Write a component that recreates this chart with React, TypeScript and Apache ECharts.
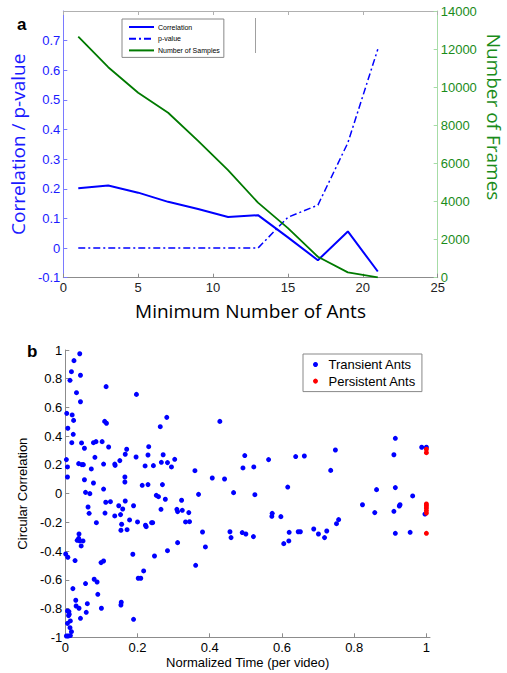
import React, { useEffect, useRef } from "react";
import * as echarts from "echarts";

// ---- Panel a data ----
const minAnts = [1, 3, 5, 7, 9, 11, 13, 15, 17, 19, 21];
const correlation = [0.202, 0.211, 0.187, 0.156, 0.132, 0.105, 0.111, 0.036, -0.041, 0.056, -0.079];
const pValue = [0, 0, 0, 0, 0, 0, 0, 0.104, 0.145, 0.355, 0.671];
const numSamples = [12650, 11050, 9710, 8660, 7180, 5650, 3940, 2600, 1100, 280, 20];

// ---- Panel b data ----
const transientAnts: number[][] = [
  [0.040, 0.974], [0.024, 0.926], [0.017, 0.849], [0.013, 0.789], [0.042, 0.824],
  [0.113, 0.745], [0.031, 0.703], [0.042, 0.640], [0.197, 0.691], [0.004, 0.559],
  [0.019, 0.548], [0.023, 0.510], [0.007, 0.455], [0.022, 0.413], [0.018, 0.355],
  [0.045, 0.353], [0.053, 0.316], [0.109, 0.503], [0.114, 0.490], [0.263, 0.466],
  [0.281, 0.531], [0.078, 0.355], [0.085, 0.362], [0.102, 0.362], [0.120, 0.325],
  [0.170, 0.309], [0.166, 0.274], [0.082, 0.253], [0.003, 0.237], [0.006, 0.186],
  [0.006, 0.116], [0.037, 0.209], [0.046, 0.202], [0.050, 0.202], [0.106, 0.206],
  [0.072, 0.172], [0.137, 0.206], [0.138, 0.197], [0.151, 0.230], [0.165, 0.116],
  [0.165, 0.081], [0.196, 0.255], [0.221, 0.193], [0.229, 0.269], [0.231, 0.327],
  [0.244, 0.195], [0.271, 0.271], [0.266, 0.218], [0.283, 0.216], [0.213, 0.058],
  [0.229, 0.063], [0.269, 0.063], [0.053, 0.097], [0.078, 0.074], [0.106, 0.032],
  [0.056, 0.009], [0.068, 0.0], [0.063, -0.093], [0.066, -0.137], [0.086, -0.202],
  [0.112, -0.060], [0.125, -0.056], [0.110, -0.135], [0.137, -0.155], [0.148, -0.084],
  [0.159, -0.107], [0.153, -0.146], [0.166, -0.051], [0.156, -0.213], [0.154, -0.255],
  [0.171, -0.251], [0.178, -0.183], [0.189, -0.084], [0.200, -0.197], [0.222, -0.220],
  [0.224, -0.230], [0.239, -0.202], [0.242, -0.202], [0.252, -0.012], [0.258, -0.021],
  [0.265, -0.109], [0.277, -0.039], [0.283, -0.397], [0.247, -0.434], [0.187, -0.422],
  [0.217, -0.538], [0.202, -0.589], [0.209, -0.589], [0.189, -0.875], [0.155, -0.756],
  [0.154, -0.775], [0.100, -0.798], [0.090, -0.701], [0.088, -0.615], [0.080, -0.596],
  [0.056, -0.626], [0.044, -0.364], [0.040, -0.329], [0.049, -0.329], [0.033, -0.325],
  [0.037, -0.311], [0.038, -0.281], [0.001, -0.420], [0.007, -0.443], [0.027, -0.466],
  [0.099, -0.480], [0.106, -0.469], [0.021, -0.661], [0.029, -0.742], [0.030, -0.782],
  [0.038, -0.798], [0.061, -0.766], [0.058, -0.826], [0.042, -0.868], [0.006, -0.817],
  [0.010, -0.821], [0.011, -0.840], [0.009, -0.849], [0.006, -0.903], [0.014, -0.886],
  [0.013, -0.933], [0.017, -0.961], [0.003, -0.991], [0.008, -0.991], [0.014, -0.988],
  [0.294, 0.186], [0.303, 0.239], [0.359, 0.160], [0.369, -0.005], [0.322, -0.046],
  [0.309, -0.109], [0.324, -0.116], [0.311, -0.125], [0.342, -0.132], [0.333, -0.197],
  [0.344, -0.195], [0.380, -0.267], [0.311, -0.341], [0.388, -0.371], [0.361, -0.499],
  [0.407, 0.109], [0.441, 0.102], [0.428, 0.503], [0.466, 0.007], [0.456, -0.265],
  [0.459, -0.306], [0.490, -0.271], [0.500, -0.281], [0.497, 0.265], [0.492, 0.179],
  [0.522, 0.186], [0.525, -0.007], [0.521, -0.299], [0.563, 0.237], [0.572, -0.158],
  [0.573, -0.137], [0.597, -0.160], [0.605, -0.348], [0.619, -0.329], [0.616, 0.046],
  [0.620, -0.269], [0.638, 0.258], [0.645, -0.265], [0.651, -0.265], [0.662, 0.262],
  [0.688, -0.246], [0.701, -0.281], [0.718, -0.306], [0.724, -0.260], [0.735, 0.162],
  [0.748, 0.304], [0.751, -0.209], [0.757, -0.181], [0.823, -0.077], [0.857, -0.132],
  [0.862, 0.028], [0.910, -0.123], [0.910, 0.271], [0.914, 0.385], [0.914, 0.042],
  [0.914, -0.276], [0.925, -0.086], [0.927, -0.077], [0.955, -0.269], [0.962, -0.016],
  [0.987, 0.323], [1.0, 0.323], [0.996, -0.142],
];
const persistentAnts: number[][] = [
  [1.0, 0.309], [1.0, 0.285], [1.0, -0.072], [1.0, -0.085], [1.0, -0.100],
  [1.0, -0.118], [1.0, -0.135], [1.0, -0.276],
];

const TICK_FONT = "Liberation Sans, Arial, sans-serif";
const TITLE_FONT = "Open Sans, sans-serif";
const fmt1 = (v: number) => String(Math.round(v * 10) / 10);

export default function App() {
  const ref = useRef<HTMLDivElement>(null);
  useEffect(() => {
    if (!ref.current) return;
    const chart = echarts.init(ref.current, undefined, { renderer: "svg" });
    const option: any = {
      animation: false,
      backgroundColor: "#ffffff",
      grid: [
        { left: 58.7, top: 11, width: 379, height: 266.7 },
        { left: 65.3, top: 350, width: 364.7, height: 287.3 },
      ],
      title: [
        { text: "a", left: 17, top: 16, textStyle: { fontFamily: TICK_FONT, fontSize: 17, fontWeight: "bold", color: "#000" }, padding: 0 },
        { text: "b", left: 27, top: 343, textStyle: { fontFamily: TICK_FONT, fontSize: 17, fontWeight: "bold", color: "#000" }, padding: 0 },
      ],
      legend: [
        {
          data: ["Correlation", "p-value", "Number of Samples"],
          orient: "vertical",
          left: 122,
          top: 19,
          padding: [4, 4, 3, 6],
          itemWidth: 25,
          itemHeight: 1,
          itemGap: 3.7,
          itemStyle: { opacity: 0 },
          borderColor: "#888",
          borderWidth: 1,
          borderRadius: 0,
          textStyle: { fontFamily: TICK_FONT, fontSize: 7, lineHeight: 8, color: "#000", padding: [0, 0, 0, -1] },
        },
        {
          data: ["Transient Ants", "Persistent Ants"],
          orient: "vertical",
          left: 303,
          top: 354,
          padding: [3, 6, 3, 10],
          itemWidth: 16,
          itemHeight: 5,
          itemGap: 1.6,
          borderColor: "#888",
          borderWidth: 1,
          borderRadius: 0,
          textStyle: { fontFamily: TICK_FONT, fontSize: 13, lineHeight: 15, color: "#000" },
        },
      ],
      xAxis: [
        {
          type: "value", gridIndex: 0, min: 0, max: 25, interval: 5, position: "bottom",
          name: "Minimum Number of Ants", nameLocation: "middle", nameGap: 24,
          nameTextStyle: { fontFamily: TITLE_FONT, fontSize: 19, color: "#000" },
          axisLine: { onZero: false, lineStyle: { color: "#8c8c8c", width: 1 } },
          axisTick: { inside: true, length: 4, lineStyle: { color: "#8c8c8c" } },
          axisLabel: { fontFamily: TICK_FONT, fontSize: 13, color: "#222", margin: 3 },
          splitLine: { show: false },
        },
        {
          type: "value", gridIndex: 0, min: 0, max: 25, interval: 5, position: "top",
          axisLine: { onZero: false, lineStyle: { color: "#b0b0b0", width: 1 } },
          axisTick: { inside: true, length: 4, lineStyle: { color: "#b0b0b0" } },
          axisLabel: { show: false },
          splitLine: { show: false },
        },
        {
          type: "value", gridIndex: 1, min: 0, max: 1.01, interval: 0.2,
          name: "Normalized Time (per video)", nameLocation: "middle", nameGap: 19,
          nameTextStyle: { fontFamily: TICK_FONT, fontSize: 13, color: "#000" },
          axisLine: { onZero: false, lineStyle: { color: "#8c8c8c", width: 1 } },
          axisTick: { inside: true, length: 4, lineStyle: { color: "#8c8c8c" } },
          axisLabel: { fontFamily: TICK_FONT, fontSize: 13, color: "#000", margin: 4, showMaxLabel: false, formatter: fmt1 },
          splitLine: { show: false },
        },
      ],
      yAxis: [
        {
          type: "value", gridIndex: 0, min: -0.1, max: 0.8, interval: 0.1, position: "left",
          name: "Correlation / p-value", nameLocation: "middle", nameGap: 31,
          nameTextStyle: { fontFamily: TITLE_FONT, fontSize: 19, color: "#1a1aff" },
          axisLine: { onZero: false, lineStyle: { color: "#7a7aff", width: 1 } },
          axisTick: { inside: true, length: 4, lineStyle: { color: "#7a7aff" } },
          axisLabel: { fontFamily: TICK_FONT, fontSize: 13, color: "#1a1aff", margin: 3, showMaxLabel: false, formatter: fmt1 },
          splitLine: { show: false },
        },
        {
          type: "value", gridIndex: 0, min: 0, max: 14000, interval: 2000, position: "right",
          axisLine: { onZero: false, lineStyle: { color: "#a6dca6", width: 1 } },
          axisTick: { inside: true, length: 4, lineStyle: { color: "#a6dca6" } },
          axisLabel: { fontFamily: TICK_FONT, fontSize: 13, color: "#1a8c1a", margin: 3, formatter: (v: number) => String(Math.round(v)) },
          splitLine: { show: false },
        },
        {
          type: "value", gridIndex: 1, min: -1, max: 1, interval: 0.2,
          name: "Circular Correlation", nameLocation: "middle", nameGap: 31,
          nameTextStyle: { fontFamily: TICK_FONT, fontSize: 13, color: "#000" },
          axisLine: { onZero: false, lineStyle: { color: "#8c8c8c", width: 1 } },
          axisTick: { inside: true, length: 4, lineStyle: { color: "#8c8c8c" } },
          axisLabel: { fontFamily: TICK_FONT, fontSize: 13, color: "#000", margin: 3, formatter: fmt1 },
          splitLine: { show: false },
        },
      ],
      series: [
        {
          name: "Correlation", type: "line", xAxisIndex: 0, yAxisIndex: 0,
          data: minAnts.map((x, i) => [x, correlation[i]]),
          symbol: "none", color: "#0000ff",
          lineStyle: { color: "#0000ff", width: 2 },
        },
        {
          name: "p-value", type: "line", xAxisIndex: 0, yAxisIndex: 0,
          data: minAnts.map((x, i) => [x, pValue[i]]),
          symbol: "none", color: "#0000ff",
          lineStyle: { color: "#0000ff", width: 1.5, type: [7, 3, 2, 3] },
        },
        {
          name: "Number of Samples", type: "line", xAxisIndex: 0, yAxisIndex: 1,
          data: minAnts.map((x, i) => [x, numSamples[i]]),
          symbol: "none", color: "#007a00",
          lineStyle: { color: "#007a00", width: 1.8 },
        },
        {
          name: "Transient Ants", type: "scatter", xAxisIndex: 2, yAxisIndex: 2,
          data: transientAnts, symbol: "circle", symbolSize: 5,
          itemStyle: { color: "#0000ff", opacity: 1 },
        },
        {
          name: "Persistent Ants", type: "scatter", xAxisIndex: 2, yAxisIndex: 2,
          data: persistentAnts, symbol: "circle", symbolSize: 5,
          itemStyle: { color: "#ff0000", opacity: 1 },
        },
      ],
      graphic: [
        {
          type: "text", x: 494, y: 117, rotation: -Math.PI / 2,
          style: { text: "Number of Frames", fontFamily: TITLE_FONT, fontSize: 19, fill: "#1a8c1a", align: "center", verticalAlign: "middle" },
        },
        {
          type: "line", shape: { x1: 255.5, y1: 18, x2: 255.5, y2: 53 },
          style: { stroke: "#a0a0a0", lineWidth: 1 },
        },
      ],
    };
    chart.setOption(option);
    return () => chart.dispose();
  }, []);
  return (
    <div
      ref={ref}
      style={{ position: "absolute", left: 0, top: 0, width: 507, height: 673, background: "#fff" }}
    />
  );
}
